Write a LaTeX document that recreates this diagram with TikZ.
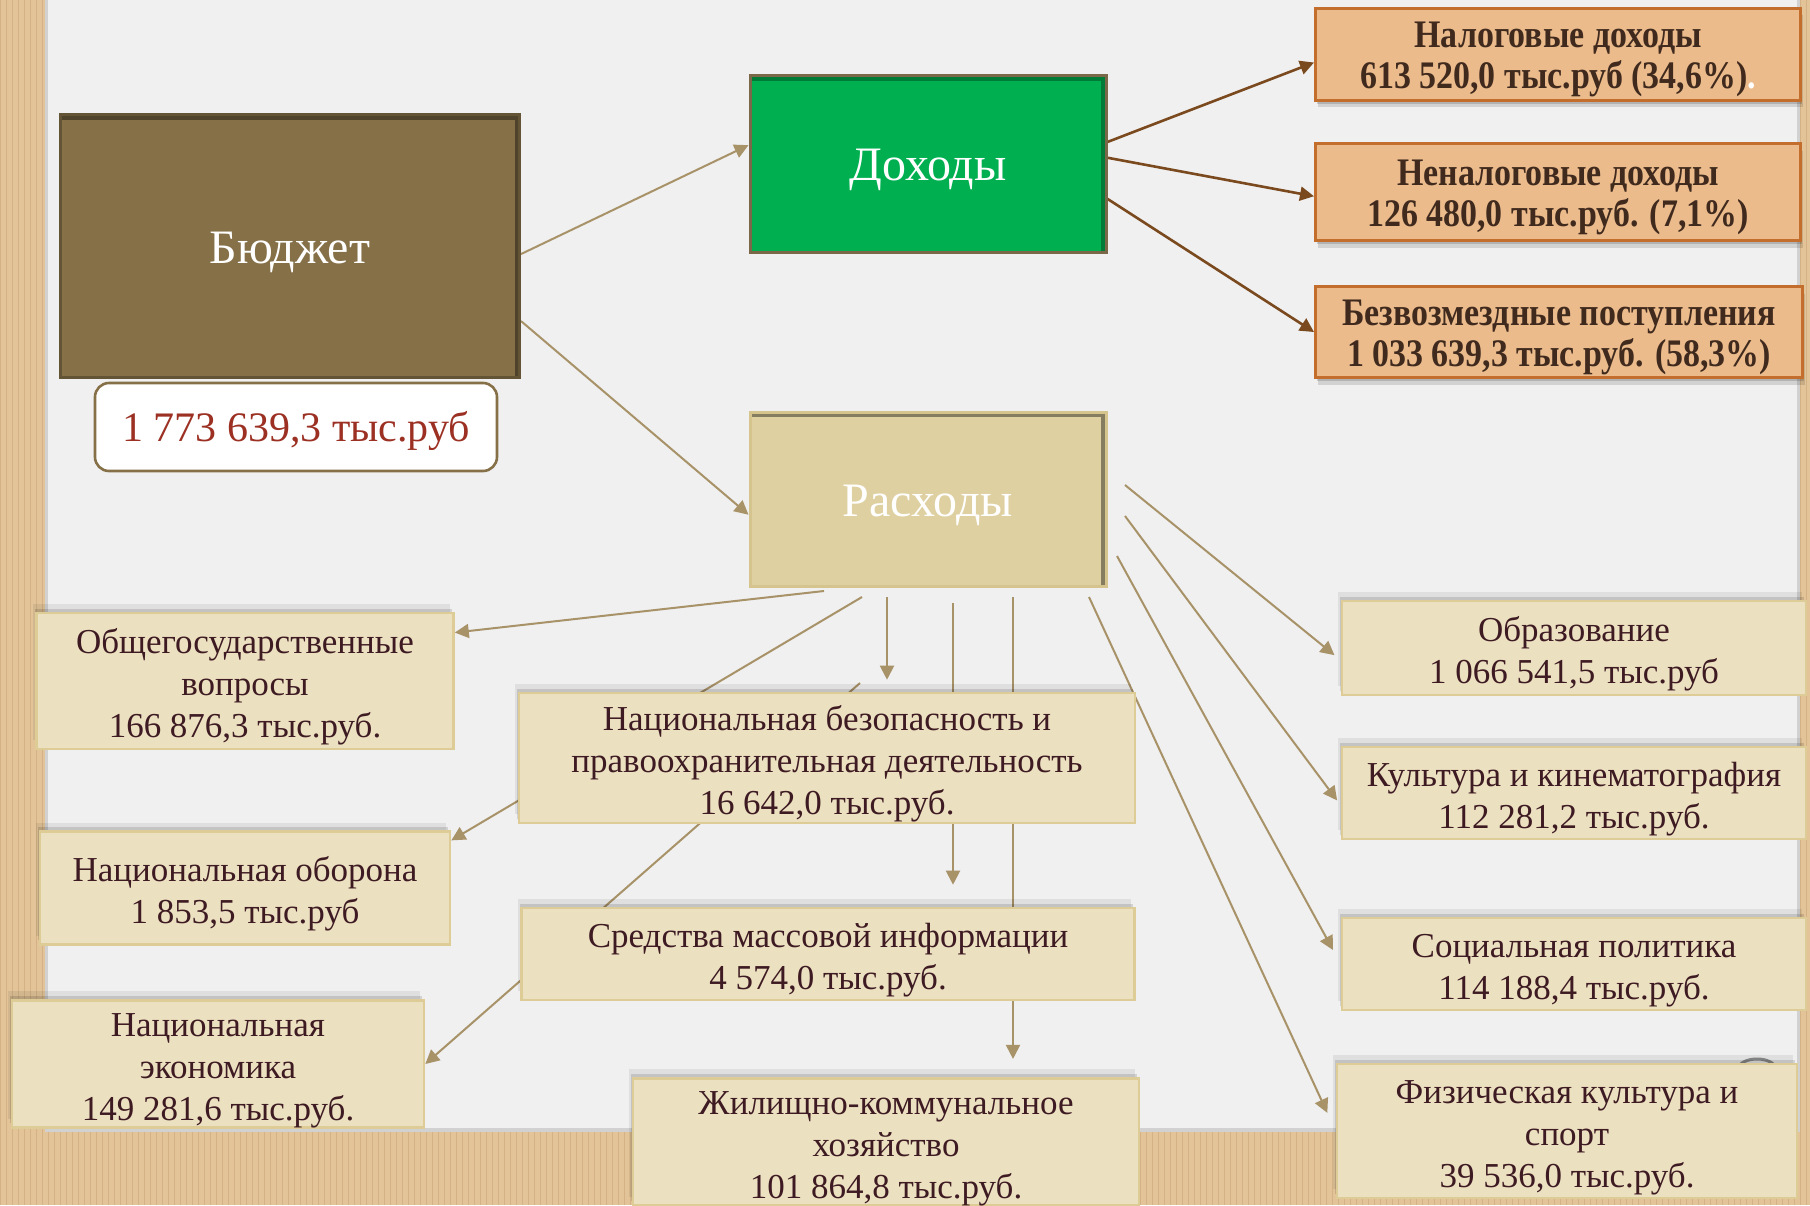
\documentclass[tikz,border=0pt]{standalone}
\usepackage{fontspec}
\setmainfont{Liberation Serif}
\newfontfamily\narrowserif[FakeStretch=0.87]{Liberation Serif}
\usetikzlibrary{arrows.meta, shadows, calc}

\definecolor{cardtan}{RGB}{227, 196, 153}
\definecolor{cardline}{RGB}{212, 178, 133}
\definecolor{paperwhite}{RGB}{240, 240, 240}
\definecolor{budgetbrown}{RGB}{133, 112, 72}
\definecolor{budgetedge}{RGB}{100, 84, 54}
\definecolor{incomegreen}{RGB}{0, 176, 80}
\definecolor{incomeedge}{RGB}{122, 104, 72}
\definecolor{expensetan}{RGB}{223, 208, 162}
\definecolor{expenseedge}{RGB}{214, 196, 142}
\definecolor{catfill}{RGB}{235, 224, 192}
\definecolor{catedge}{RGB}{222, 204, 150}
\definecolor{cattext}{RGB}{62, 26, 34}
\definecolor{orangefill}{RGB}{235, 187, 140}
\definecolor{orangeedge}{RGB}{196, 110, 45}
\definecolor{orangetext}{RGB}{64, 42, 30}
\definecolor{linktan}{RGB}{168, 146, 104}
\definecolor{linkbrown}{RGB}{122, 74, 30}
\definecolor{totalred}{RGB}{155, 48, 35}

% extra room above the first line, so the text sits a little low as in the slide
\newcommand{\boxstrut}[1][18pt]{\rule{0pt}{#1}}

\pgfdeclarelayer{paper}
\pgfdeclarelayer{links}
\pgfsetlayers{paper,links,main}

\begin{document}
\begin{tikzpicture}[x=0.5pt, y=-0.5pt,
  mainbox/.style={line width=1.5pt, align=center, text=white, font=\fontsize{24}{28}\selectfont, inner sep=0pt},
  innerlip/.style={path picture={\draw[#1, line width=5pt] (path picture bounding box.north west) -- (path picture bounding box.north east) -- (path picture bounding box.south east);}},
  totalbox/.style={draw=budgetbrown, fill=white, line width=1.3pt, rounded corners=7pt, text=totalred, font=\fontsize{21}{25}\selectfont, inner sep=0pt},
  incbox/.style={draw=orangeedge, fill=orangefill, line width=1.5pt, align=center, text=orangetext, font=\narrowserif\bfseries\fontsize{19.5}{20.5}\selectfont, inner sep=0pt,
    general shadow={shadow xshift=1pt, shadow yshift=-3.5pt, fill=black, opacity=0.12},
    general shadow={shadow xshift=0.5pt, shadow yshift=-1.8pt, fill=black, opacity=0.15}},
  catbox/.style={draw=catedge, fill=catfill, line width=1.3pt, align=center, text=cattext, font=\fontsize{17.5}{21}\selectfont, inner sep=0pt,
    general shadow={shadow xshift=-2pt, shadow yshift=4.5pt, fill=black, opacity=0.07},
    general shadow={shadow xshift=-1pt, shadow yshift=2.2pt, fill=black, opacity=0.12}},
  tanlink/.style={draw=linktan, line width=1pt, -{Triangle[length=7pt, width=7pt]}},
  brownlink/.style={draw=linkbrown, line width=1.3pt, -{Triangle[length=7pt, width=7pt]}}
]
  \useasboundingbox (0,0) rectangle (1810,1205);

  % budget, income, expense
  \node[mainbox, fill=budgetbrown, draw=budgetedge, innerlip=budgetedge!80!black, minimum width=229.5pt, minimum height=131.5pt] (budget) at (290,246) {\boxstrut[22pt]Бюджет};
  \node[totalbox, minimum width=201pt, minimum height=44pt] (total) at (296,427) {\boxstrut[19.5pt]1 773 639,3 тыс.руб};
  \node[mainbox, fill=incomegreen, draw=incomeedge, innerlip=incomegreen!70!black, minimum width=178pt, minimum height=88.5pt] (income) at (928,164) {\boxstrut[22pt]Доходы};
  \node[mainbox, fill=expensetan, draw=expenseedge, innerlip=expensetan!60!black, minimum width=178pt, minimum height=87pt] (expense) at (928,499) {\boxstrut[22pt]Расходы};

  % income sources
  \node[incbox, minimum width=242.5pt, minimum height=46pt] (tax) at (1558,54) {\boxstrut Налоговые доходы\\613 520,0 тыс.руб (34,6\%)\textcolor{white}{.}};
  \node[incbox, minimum width=242.5pt, minimum height=48.5pt] (nontax) at (1558,192) {\boxstrut Неналоговые доходы\\126 480,0 тыс.руб. (7,1\%)};
  \node[incbox, minimum width=243.5pt, minimum height=45.5pt] (grants) at (1559,332) {\boxstrut Безвозмездные поступления\\1 033 639,3 тыс.руб. (58,3\%)};

  % expense items, left and middle
  \node[catbox, minimum width=208.5pt, minimum height=68pt] (general) at (245,681) {\boxstrut Общегосударственные\\вопросы\\166 876,3 тыс.руб.};
  \node[catbox, minimum width=205pt, minimum height=56.5pt] (defense) at (245,888) {\boxstrut Национальная оборона\\1 853,5 тыс.руб};
  \node[catbox, minimum width=206pt, minimum height=61.5pt] (economy) at (218,1064) {\boxstrut Национальная\\экономика\\149 281,6 тыс.руб.};
  \node[catbox, minimum width=308pt, minimum height=65pt] (security) at (827,758) {\boxstrut Национальная безопасность и\\правоохранительная деятельность\\16 642,0 тыс.руб.};
  \node[catbox, minimum width=306.5pt, minimum height=46pt] (media) at (828,954) {\boxstrut Средства массовой информации\\4 574,0 тыс.руб.};
  \node[catbox, minimum width=253pt, minimum height=62pt] (housing) at (886,1142) {\boxstrut Жилищно-коммунальное\\хозяйство\\101 864,8 тыс.руб.};

  % expense items, right
  \node[catbox, minimum width=232pt, minimum height=47pt] (education) at (1574,648) {\boxstrut Образование\\1 066 541,5 тыс.руб};
  \node[catbox, minimum width=232pt, minimum height=46pt] (culture) at (1574,793) {\boxstrut Культура и кинематография\\112 281,2 тыс.руб.};
  \node[catbox, minimum width=232pt, minimum height=46pt] (social) at (1574,964) {\boxstrut Социальная политика\\114 188,4 тыс.руб.};
  \node[catbox, minimum width=230pt, minimum height=67pt] (sport) at (1567,1131) {\boxstrut Физическая культура и\\спорт\\39 536,0 тыс.руб.};

  % free starts of the expense links
  \coordinate (ea) at (824,591);
  \coordinate (eb) at (862,597);
  \coordinate (ec) at (860,683);
  \coordinate (ed) at (887,597);
  \coordinate (ee) at (953,603);
  \coordinate (ef) at (1013,597);
  \coordinate (eg) at (1089,597);
  \coordinate (eh) at (1117,556);
  \coordinate (ei) at (1125,516);
  \coordinate (ej) at (1125,485);

  \begin{pgfonlayer}{links}
    \draw[tanlink] (budget.-2) -- (income.174);
    \draw[tanlink] (budget.-18) -- (expense.185);
    \draw[brownlink] (income.7) -- (tax.182);
    \draw[brownlink] (income.2) -- (nontax.181);
    \draw[brownlink] (income.-11) -- (grants.west);
    \draw[tanlink] (ea) -- (general.13);
    \draw[tanlink] (eb) -- (defense.13);
    \draw[tanlink] (ec) -- (economy.east);
    \draw[tanlink, shorten >=6pt] (ed) -- (ed |- security.north);
    \draw[tanlink, shorten >=11pt] (ee) -- (ee |- media.north);
    \draw[tanlink, shorten >=9pt] (ef) -- (ef |- housing.north);
    \draw[tanlink, shorten >=10pt] (eg) -- (sport.west);
    \draw[tanlink, shorten >=8pt] (eh) -- (social.west);
    \draw[tanlink, shorten >=3pt] (ei) -- (culture.183);
    \draw[tanlink, shorten >=4pt] (ej) -- (education.183);
  \end{pgfonlayer}

  % cardboard and paper sheet
  \begin{pgfonlayer}{paper}
    \fill[cardtan] (0,0) rectangle (1810,1205);
    \foreach \i in {0,6,...,1806}
      \draw[cardline, line width=0.5pt] (\i,0) -- (\i,1205);
    \fill[black!18] (45,-10) rectangle (1800,1132);
    \fill[paperwhite] (48,-10) rectangle (1797,1128);
    \draw[black!45, line width=1.5pt] (1757,1068) ellipse (18 and 9);
  \end{pgfonlayer}
\end{tikzpicture}
\end{document}
